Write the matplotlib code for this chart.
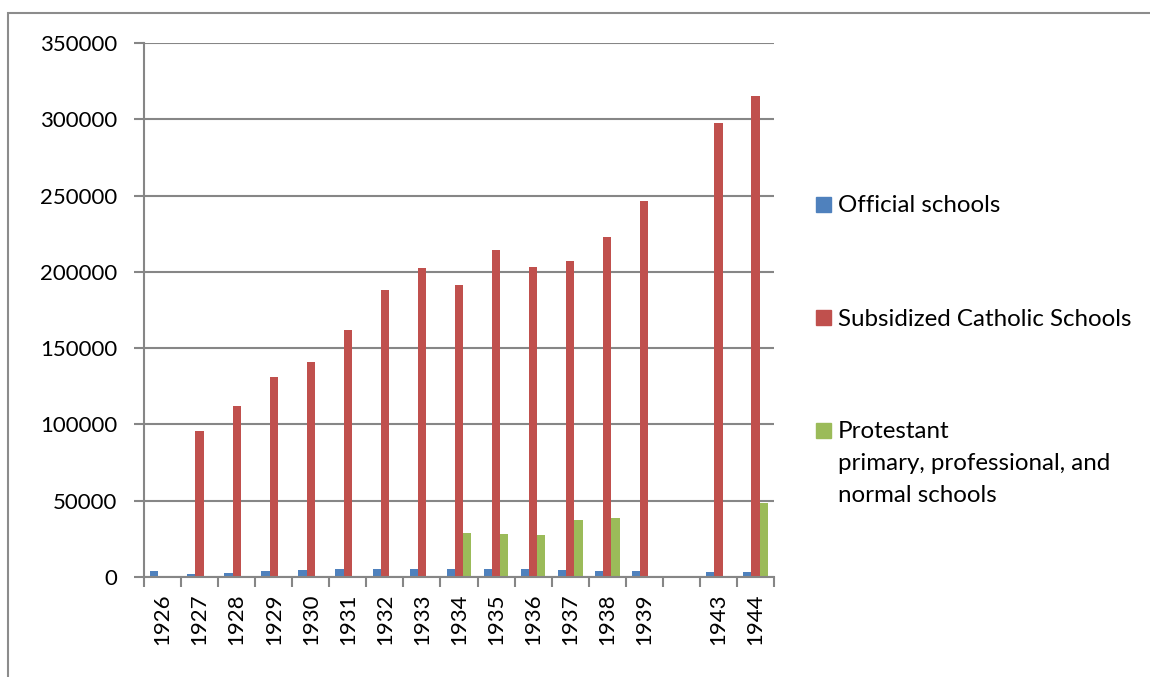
import matplotlib
matplotlib.use("Agg")
import matplotlib.pyplot as plt
from matplotlib.patches import Rectangle
import numpy as np

plt.rcParams['font.family'] = ['Lato', 'DejaVu Sans']

years = ['1926', '1927', '1928', '1929', '1930', '1931', '1932', '1933', '1934',
         '1935', '1936', '1937', '1938', '1939', '', '1943', '1944']
official = [3700, 2200, 2800, 3700, 4400, 5000, 5000, 5500, 5500,
            5500, 5000, 4400, 4100, 4100, 0, 3500, 3500]
catholic = [0, 96000, 112000, 131000, 140800, 161800, 188000, 202400, 191300,
            214200, 203000, 207000, 222700, 246300, 0, 297300, 315400]
protestant = [0, 0, 0, 0, 0, 0, 0, 0, 29000,
              28400, 27300, 37500, 38600, 0, 0, 0, 48700]

series_names = ['Official schools', 'Subsidized Catholic Schools',
                'Protestant\nprimary, professional, and\nnormal schools']
colors = ['#4F81BD', '#C0504D', '#9BBB59']

W, H = 1150, 677
fig = plt.figure(figsize=(W / 100, H / 100), dpi=100)

# chart-area frame
fig.patches.append(Rectangle((8 / W, 0 - 0.05), 1.2, 1 - 13 / H + 0.05,
                             transform=fig.transFigure, fill=False,
                             edgecolor='#8C8C8C', linewidth=1.5, zorder=0))

ax = fig.add_axes([144 / W, 1 - 577 / H, 630 / W, 534 / H])

x = np.arange(len(years))
bw = 1 / 4.5
for i, (vals, c) in enumerate(zip([official, catholic, protestant], colors)):
    ax.bar(x + (i - 1) * bw, vals, width=bw, color=c, zorder=3, linewidth=0)

ax.set_xlim(-0.5, len(years) - 0.5)
ax.set_ylim(0, 350000)
ax.set_yticks(np.arange(0, 350001, 50000))
ax.set_yticklabels([str(v) for v in range(0, 350001, 50000)], fontsize=16)
ax.yaxis.grid(True, color='#868686', linewidth=1.5, zorder=0)
ax.tick_params(axis='y', length=7, width=1.5, color='#868686', pad=12)

ax.set_xticks(x)
ax.set_xticklabels(years, rotation=90, fontsize=16)
ax.tick_params(axis='x', which='major', length=0, pad=12)
ax.set_xticks(np.arange(-0.5, len(years), 1), minor=True)
ax.tick_params(axis='x', which='minor', length=7, width=1.5, color='#868686')

for s in ['top', 'right']:
    ax.spines[s].set_visible(False)
for s in ['left', 'bottom']:
    ax.spines[s].set_color('#868686')
    ax.spines[s].set_linewidth(1.5)
    ax.spines[s].set_zorder(4)

# legend: colour square plus label lines on fixed baselines
legend_baselines = [212.3, 325.7, 438.3]
line_step = 31.7
for name, c, base in zip(series_names, colors, legend_baselines):
    fig.patches.append(Rectangle((816 / W, 1 - (base - 0.5) / H), 15 / W, 15 / H,
                                 transform=fig.transFigure, color=c))
    for k, line in enumerate(name.split('\n')):
        fig.text(838 / W, 1 - (base + k * line_step) / H, line, fontsize=17.4,
                 va='baseline', ha='left')

fig.savefig('out.png', dpi=100)
